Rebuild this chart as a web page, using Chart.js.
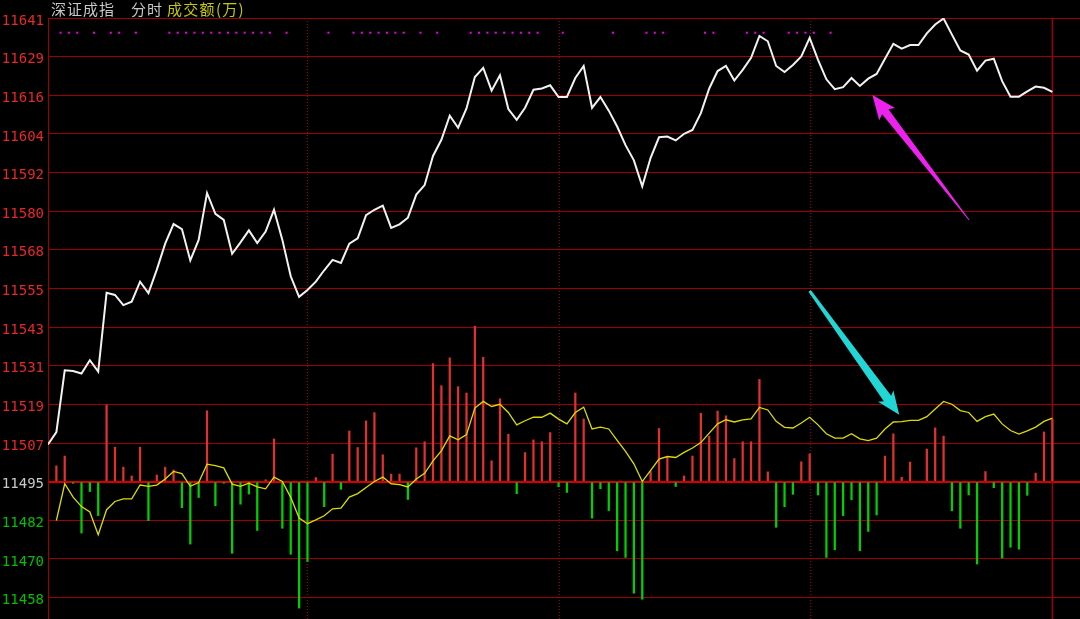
<!DOCTYPE html>
<html><head><meta charset="utf-8">
<script src="https://cdn.jsdelivr.net/npm/chart.js@4.4.1/dist/chart.umd.min.js"></script>
<style>
html,body{margin:0;padding:0;background:#000;overflow:hidden;}
#wrap{position:relative;width:1080px;height:619px;background:#000;}
#c{position:absolute;left:0;top:0;}
#title{position:absolute;left:0;top:0;width:1080px;height:18px;font-family:"Noto Sans CJK SC";font-size:15px;line-height:18px;white-space:nowrap;}
#title span{position:absolute;top:0;}
</style></head><body>
<div id="wrap"><canvas id="c" width="1080" height="619"></canvas>
<div id="title"><span style="left:51px;color:#c8c8c8;letter-spacing:1px">深证成指</span><span style="left:131px;color:#c8c8c8;letter-spacing:1px">分时</span><span style="left:167px;color:#c8c800;letter-spacing:1.3px">成交额(万)</span></div></div>
<script>
// ---- data ----
const prevClose = 11494.95;
const tickStep = 12.2;
const yMin = 11451.6;
const yMax = 11641.35;
const yTickLabels = ['11458','11470','11482','11495','11507','11519','11531','11543','11555','11568','11580','11592','11604','11616','11629','11641'];
const minutesPerPoint = 2;
const sessionEndMinute = 240;
const dividerMinutes = [62, 122, 182];

const indexLine = [
 11506.7, 11510.6, 11530.1, 11529.9, 11529.1, 11533.3, 11529.7, 11554.6, 11553.9, 11550.7,
 11551.8, 11558.1, 11554.5, 11561.9, 11570.1, 11576.3, 11574.7, 11564.8, 11571.3, 11586.1,
 11579.5, 11577.6, 11566.9, 11570.5, 11574.3, 11570.3, 11573.9, 11580.8, 11571.3, 11559.8,
 11553.3, 11555.5, 11558.1, 11561.7, 11565.0, 11564.0, 11570.1, 11571.8, 11579.1, 11580.8,
 11582.1, 11575.1, 11576.2, 11578.3, 11585.6, 11588.6, 11597.8, 11602.9, 11610.5, 11606.7,
 11612.8, 11622.7, 11625.6, 11618.4, 11623.3, 11612.6, 11609.2, 11613.0, 11618.7, 11619.1,
 11620.1, 11616.4, 11616.4, 11622.4, 11626.2, 11613.0, 11616.4, 11612.1, 11607.1, 11601.2,
 11596.4, 11588.2, 11597.2, 11603.7, 11603.9, 11602.7, 11604.8, 11606.0, 11611.3, 11619.1,
 11624.6, 11626.2, 11621.6, 11625.0, 11628.8, 11635.7, 11634.0, 11626.2, 11624.3, 11626.5,
 11629.2, 11635.1, 11628.1, 11622.0, 11618.9, 11619.5, 11622.4, 11619.9, 11622.2, 11623.7,
 11628.5, 11633.2, 11631.7, 11632.8, 11632.8, 11636.5, 11639.3, 11641.2, 11636.1, 11631.1,
 11629.8, 11624.7, 11627.9, 11628.5, 11621.4, 11616.5, 11616.5, 11618.2, 11619.7, 11619.3,
 11618.0];

const leadLine = [
 null, 11482.7, 11494.3, 11490.1, 11487.1, 11485.4, 11478.2, 11486.1, 11488.7, 11489.5,
 11489.5, 11493.9, 11493.5, 11493.9, 11495.8, 11498.2, 11497.5, 11493.5, 11494.7, 11500.5,
 11500.0, 11499.3, 11494.2, 11493.5, 11494.5, 11493.3, 11492.7, 11496.4, 11495.0, 11490.0,
 11483.5, 11481.7, 11482.9, 11484.2, 11486.4, 11486.6, 11490.1, 11491.2, 11493.1, 11495.0,
 11496.4, 11494.3, 11494.0, 11493.3, 11495.8, 11497.6, 11501.5, 11504.7, 11509.4, 11508.2,
 11509.8, 11518.2, 11520.3, 11518.7, 11519.4, 11516.8, 11512.9, 11514.2, 11515.3, 11515.3,
 11516.6, 11514.7, 11513.2, 11516.8, 11518.5, 11511.6, 11512.2, 11511.6, 11508.0, 11504.5,
 11500.6, 11495.0, 11498.5, 11502.1, 11502.9, 11502.6, 11504.2, 11505.6, 11507.3, 11510.3,
 11513.2, 11514.5, 11513.8, 11514.5, 11514.8, 11518.4, 11517.6, 11514.0, 11512.1, 11511.9,
 11513.5, 11515.3, 11512.9, 11510.1, 11508.7, 11508.7, 11510.1, 11508.5, 11507.9, 11508.7,
 11511.6, 11513.8, 11513.9, 11514.3, 11514.3, 11515.5, 11517.9, 11520.3, 11519.4, 11517.4,
 11516.8, 11514.0, 11515.5, 11516.3, 11513.2, 11511.1, 11510.0, 11511.0, 11512.2, 11514.0,
 11515.0];

const barDelta = [
 null, 5.0, 8.1, -0.5, -16.2, -3.1, -10.7, 24.2, 10.9, 4.6,
 1.8, 10.9, -12.3, 2.1, 4.6, 3.7, -8.2, -19.7, -5.0, 22.4,
 -7.6, -0.5, -22.6, -7.1, -3.9, -15.4, 0.6, 13.5, -14.7, -22.9,
 -39.9, -25.2, 1.3, -7.9, 8.7, -2.4, 16.0, 10.8, 19.2, 21.8,
 8.5, 2.4, 2.4, -5.6, 10.7, 12.6, 37.3, 30.3, 39.1, 30.0,
 28.0, 49.1, 39.3, 6.6, 26.2, 15.0, -3.8, 9.2, 13.2, 12.6,
 15.5, -1.6, -3.4, 28.0, 19.8, -11.5, -2.2, -9.1, -21.8, -23.9,
 -35.2, -37.1, 3.2, 16.8, 7.8, -1.5, 1.8, 8.1, 21.6, 14.4,
 22.3, 20.8, 7.3, 12.6, 12.6, 32.3, 3.1, -14.4, -7.9, -4.0,
 6.3, 8.8, -4.2, -23.9, -21.5, -10.7, -5.7, -21.8, -15.7, -10.5,
 8.1, 15.1, 1.4, 6.2, 0, 10.3, 17.0, 14.4, -9.2, -14.7,
 -4.2, -26.0, 3.2, -1.9, -24.1, -20.7, -21.3, -4.3, 2.7, 15.7,
 19.7];

const signalSlots = [1,2,3,5,7,8,10,14,15,16,17,18,19,20,21,22,23,24,25,26,28,33,36,37,38,39,40,41,42,44,46,50,51,52,53,54,55,56,57,58,61,67,71,72,73,78,79,83,84,85,88,89,90,91,93];
const signalLevel = 11636.7;

const arrowNotes = [
  {from: [220.1, 11577.6], to: [197.0, 11617.0], color: '#ee22ee', tail: 0.4, shaft: 4, headLen: 21, headHalf: 10},
  {from: [182.0, 11555.2], to: [203.4, 11516.1], color: '#22d6d6', tail: 1.5, shaft: 4.5, headLen: 20, headHalf: 9.5}
];

// ---- build ----
const linePts = arr => arr.map((v, i) => v == null ? null : {x: i * minutesPerPoint, y: v}).filter(p => p);
const barPts = barDelta.map((d, i) => (d == null || d === 0) ? null : {x: i * minutesPerPoint, y: prevClose + d}).filter(p => p);
const signalPts = signalSlots.map(s => ({x: s * minutesPerPoint + 1, y: signalLevel}));

const framePlugin = {
  id: 'frame',
  beforeDatasetsDraw(chart) {
    const {ctx, chartArea: a, scales: {x}} = chart;
    ctx.save();
    ctx.strokeStyle = '#a00000';
    ctx.lineWidth = 1;
    ctx.setLineDash([1, 2]);
    dividerMinutes.forEach(m => {
      const px = Math.round(x.getPixelForValue(m)) + 0.5;
      ctx.beginPath(); ctx.moveTo(px, a.top); ctx.lineTo(px, a.bottom); ctx.stroke();
    });
    ctx.setLineDash([]);
    ctx.lineWidth = 1.5;
    const pe = x.getPixelForValue(sessionEndMinute);
    ctx.beginPath(); ctx.moveTo(pe, a.top); ctx.lineTo(pe, a.bottom); ctx.stroke();
    ctx.restore();
  },
  afterDatasetsDraw(chart) {
    const {ctx, scales: {x, y}} = chart;
    ctx.save();
    arrowNotes.forEach(n => {
      const x0 = x.getPixelForValue(n.from[0]), y0 = y.getPixelForValue(n.from[1]);
      const x1 = x.getPixelForValue(n.to[0]), y1 = y.getPixelForValue(n.to[1]);
      const dx = x1 - x0, dy = y1 - y0, L = Math.hypot(dx, dy);
      const ux = dx / L, uy = dy / L, nx = -uy, ny = ux;
      const bx = x1 - ux * n.headLen, by = y1 - uy * n.headLen;
      ctx.fillStyle = n.color;
      ctx.beginPath();
      ctx.moveTo(x0 + nx * n.tail, y0 + ny * n.tail);
      ctx.lineTo(bx + nx * n.shaft, by + ny * n.shaft);
      ctx.lineTo(bx - ux * 3 + nx * n.headHalf, by - uy * 3 + ny * n.headHalf);
      ctx.lineTo(x1, y1);
      ctx.lineTo(bx - ux * 3 - nx * n.headHalf, by - uy * 3 - ny * n.headHalf);
      ctx.lineTo(bx - nx * n.shaft, by - ny * n.shaft);
      ctx.lineTo(x0 - nx * n.tail, y0 - ny * n.tail);
      ctx.closePath();
      ctx.fill();
    });
    ctx.restore();
  }
};

new Chart(document.getElementById('c'), {
  type: 'line',
  data: {
    datasets: [
      {type: 'line', data: linePts(indexLine), borderColor: '#f2f2f2', borderWidth: 2, pointRadius: 0, tension: 0, order: 0},
      {type: 'line', data: linePts(leadLine), borderColor: '#dcdc00', borderWidth: 1.3, pointRadius: 0, tension: 0, order: 1},
      {type: 'scatter', data: signalPts, showLine: false, pointStyle: 'rect', pointRadius: 1.45, pointBorderWidth: 0, borderWidth: 0, backgroundColor: '#e600e6', pointBackgroundColor: '#e600e6', order: 2},
      {type: 'bar', data: barPts, base: prevClose, barThickness: 1.6, grouped: false,
       backgroundColor: c => (c.raw && c.raw.y >= prevClose) ? '#e03030' : '#00d000', borderWidth: 0, order: 3}
    ]
  },
  options: {
    responsive: false,
    devicePixelRatio: 1,
    animation: false,
    events: [],
    layout: {autoPadding: false, padding: {top: 18, left: 0, right: 0, bottom: 0}},
    plugins: {legend: {display: false}, tooltip: {enabled: false}, title: {display: false}},
    scales: {
      x: {type: 'linear', min: 0, max: 246.6, offset: false, display: false},
      y: {
        type: 'linear', min: yMin, max: yMax,
        afterBuildTicks: s => { s.ticks = yTickLabels.map((_, k) => ({value: prevClose + (k - 3) * tickStep})); },
        afterFit: s => { s.width = 48; s.paddingTop = 0; s.paddingBottom = 0; },
        border: {display: true, color: '#a00000', width: 1},
        grid: {
          drawTicks: false,
          color: c => c.index === 3 ? '#d40000' : '#a00000',
          lineWidth: c => c.index === 3 ? 2 : 1
        },
        ticks: {
          padding: 4,
          labelOffset: 3,
          autoSkip: false,
          font: {family: 'DejaVu Sans Mono', size: 14},
          color: c => c.index < 3 ? '#00c000' : (c.index === 3 ? '#c8c8c8' : '#e62828'),
          callback: (v, i) => yTickLabels[i]
        }
      }
    }
  },
  plugins: [framePlugin]
});
</script>
</body></html>
